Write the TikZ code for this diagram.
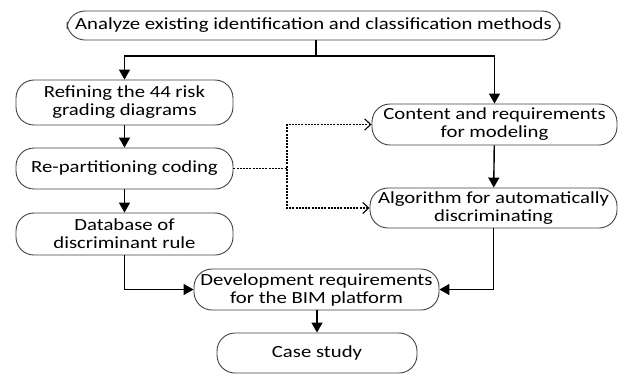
\documentclass[tikz,border=0pt]{standalone}
\usepackage{fontspec}
\setmainfont{Carlito}[FakeStretch=1.22]
\usetikzlibrary{arrows.meta,positioning,calc}

\tikzset{
  stage/.style={draw=black!75, line width=0.9pt, rounded corners=18pt,
    align=center, inner sep=0pt, text=black,
    font=\fontsize{17}{18}\selectfont},
  flow/.style={line width=1.4pt, -{Triangle[length=10pt,width=11pt]}},
  link/.style={line width=1.4pt},
  hint/.style={line width=1.6pt, dash pattern=on 2pt off 1.2pt,
    -{Straight Barb[length=6pt,width=11pt,line width=1.1pt]}},
}

\begin{document}
\begin{tikzpicture}[x=1pt,y=-1pt]
  \useasboundingbox (0,0) rectangle (622,376);

  % process stages
  \node[stage, minimum width=493pt, minimum height=29pt] (top) at (313.5,25.5)
    {Analyze existing identification and classification methods};
  \node[stage, minimum width=217pt, minimum height=45pt] (refine) at (124.5,102.5)
    {Refining the 44 risk\\grading diagrams};
  \node[stage, minimum width=217pt, minimum height=41pt] (repart) at (124.5,168.5)
    {Re-partitioning coding};
  \node[stage, minimum width=217pt, minimum height=42pt] (db) at (124.5,234)
    {Database of\\discriminant rule};
  \node[stage, minimum width=245pt, minimum height=41pt] (content) at (494.5,124.5)
    {Content and requirements\\for modeling};
  \node[stage, minimum width=247pt, minimum height=40pt] (algo) at (493.5,208)
    {Algorithm for automatically\\discriminating};
  \node[stage, minimum width=245pt, minimum height=41pt] (dev) at (316.5,289.5)
    {Development requirements\\for the BIM platform};
  \node[stage, minimum width=200pt, minimum height=40pt] (case) at (317,353)
    {Case study};

  % split below the first stage
  \coordinate (split) at (316,56);
  \draw[link] (top.south -| split) -- (split);
  \draw[flow] (split) -| (refine.north);
  \draw[flow] (split) -| (content.north);

  % left column
  \draw[flow] (refine) -- (repart);
  \draw[flow] (repart) -- (db);
  \draw[flow] (db.south) |- (dev.west);

  % right column
  \draw[flow] (content) -- (algo);
  \draw[flow] (algo.south) |- (dev.east);

  % final step
  \draw[flow] (dev.south -| case.north) -- (case.north);

  % dotted feed from the coding stage
  \coordinate (fork) at (287,168.5);
  \draw[hint] (repart.east) -- (fork) |- (content.west);
  \draw[hint] (fork) |- (algo.west);
\end{tikzpicture}
\end{document}
